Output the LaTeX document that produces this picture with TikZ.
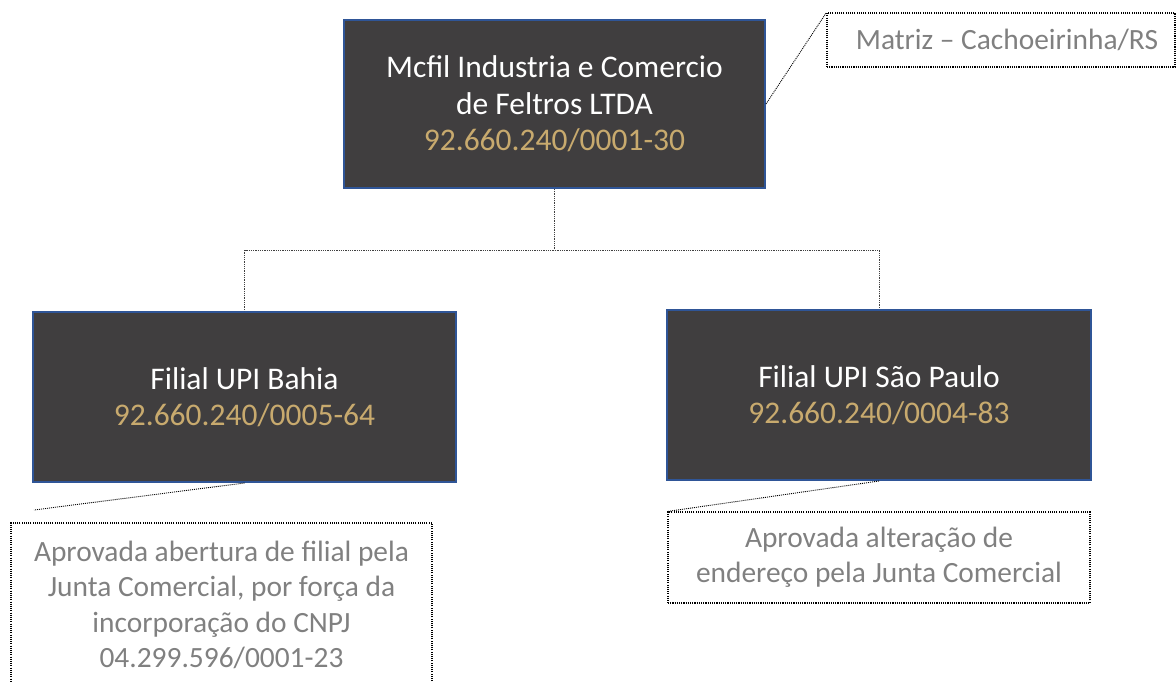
\documentclass[tikz,border=0pt]{standalone}
\usepackage{fontspec}
\setmainfont{Carlito}
\definecolor{boxfill}{RGB}{64,62,63}
\definecolor{boxline}{RGB}{47,85,151}
\definecolor{gold}{RGB}{200,170,110}
\definecolor{notegray}{RGB}{128,128,128}
\begin{document}
\begin{tikzpicture}[x=1pt,y=-1pt,
  orgbox/.style={draw=boxline, line width=2pt, fill=boxfill, text=white, align=center,
    inner sep=0pt, font=\fontsize{31.5}{36.5}\selectfont},
  note/.style={draw=black, line width=1.1pt, dash pattern=on 1.1pt off 1.1pt, text=notegray,
    align=center, inner sep=0pt, font=\fontsize{29.4}{35.5}\selectfont},
  conn/.style={draw=black!75, line width=0.8pt, dash pattern=on 1pt off 0.8pt},
  lead/.style={draw=black, line width=0.9pt, dash pattern=on 1pt off 1pt}]
\useasboundingbox (0,0) rectangle (1176,682);
\clip (0,0) rectangle (1176,682);
\node[orgbox, minimum width=421pt, minimum height=168pt] (top) at (554.5,104)
  {Mcfil Industria e Comercio\\de Feltros LTDA\\\textcolor{gold}{92.660.240/0001-30}};
\node[orgbox, minimum width=423pt, minimum height=170pt] (bahia) at (244.5,397)
  {Filial UPI Bahia\\\textcolor{gold}{92.660.240/0005-64}};
\node[orgbox, minimum width=424pt, minimum height=170pt] (sp) at (879,395)
  {Filial UPI São Paulo\\\textcolor{gold}{92.660.240/0004-83}};
\node[note, minimum width=348pt, minimum height=54pt] (matriz) at (1001,40)
  {\hspace*{12pt}Matriz – Cachoeirinha/RS};
\node[note, minimum width=421pt, minimum height=164pt] (bnote) at (221.5,605)
  {Aprovada abertura de filial pela\\Junta Comercial, por força da\\incorporação do CNPJ\\04.299.596/0001-23};
\node[note, minimum width=422pt, minimum height=91pt] (spnote) at (879,557.5)
  {Aprovada alteração de\\endereço pela Junta Comercial};
\coordinate (bend) at (34,510);
\draw[conn] (top.south) -- ++(0,61) -| (bahia.north);
\draw[conn] (top.south) -- ++(0,61) -| (sp.north);
\draw[lead] (top.east) -- (matriz.north west);
\draw[lead] (bahia.south) -- (bend);
\draw[lead] (sp.south) -- (spnote.north west);
\end{tikzpicture}
\end{document}
